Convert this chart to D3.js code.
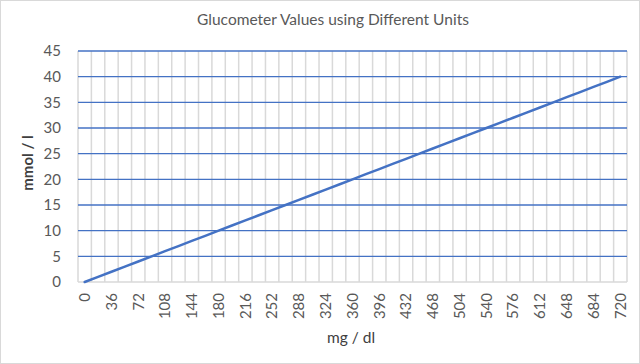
<!DOCTYPE html>
<html><head><meta charset="utf-8">
<script src="https://cdn.jsdelivr.net/npm/d3@7"></script>
<style>body{margin:0;background:#fff}svg{display:block}</style>
</head><body>
<svg id="c" width="640" height="364"></svg>
<script>
const categories = [0,18,36,54,72,90,108,126,144,162,180,198,216,234,252,270,288,306,324,342,360,378,396,414,432,450,468,486,504,522,540,558,576,594,612,630,648,666,684,702,720];
const mmolValues = [0,1,2,3,4,5,6,7,8,9,10,11,12,13,14,15,16,17,18,19,20,21,22,23,24,25,26,27,28,29,30,31,32,33,34,35,36,37,38,39,40];
const yTicks = [0,5,10,15,20,25,30,35,40,45];
const title = "Glucometer Values using Different Units";
const xTitle = "mg / dl";
const yTitle = "mmol / l";

const svg = d3.select("#c");
const font = "Lato, 'Open Sans', sans-serif";
const L = 78, R = 627, T = 51, B = 282;

svg.append("rect").attr("x",0.5).attr("y",0.5).attr("width",639).attr("height",363)
  .attr("fill","#fff").attr("stroke","#d9d9d9");

const x = d3.scaleBand().domain(categories).range([L,R]);
const y = d3.scaleLinear().domain([0,45]).range([B,T]);

// vertical gridlines at category boundaries
const g = svg.append("g");
const bounds = categories.map(c => x(c)).concat([R]);
g.selectAll("line.v").data(bounds).enter().append("line")
  .attr("x1",d=>d).attr("x2",d=>d).attr("y1",T).attr("y2",B)
  .attr("stroke","#d9d9d9").attr("stroke-width",1.5);
// horizontal gridlines
g.selectAll("line.h").data(yTicks.filter(t=>t>0)).enter().append("line")
  .attr("x1",L).attr("x2",R).attr("y1",d=>y(d)).attr("y2",d=>y(d))
  .attr("stroke","#4472C4").attr("stroke-width",1.3);
// x axis baseline
svg.append("line").attr("x1",L).attr("x2",R).attr("y1",B).attr("y2",B)
  .attr("stroke","#d9d9d9").attr("stroke-width",1.5);

// y tick labels
const ya = svg.append("g").attr("transform",`translate(${L-17},0)`)
  .call(d3.axisLeft(y).tickValues(yTicks).tickSize(0).tickPadding(0));
ya.select(".domain").remove();
ya.selectAll("text").attr("font-family",font).attr("font-size",15).attr("fill","#595959");

// x tick labels (every other category)
const xa = svg.append("g").attr("transform",`translate(0,${B})`)
  .call(d3.axisBottom(x).tickValues(categories.filter((c,i)=>i%2===0)).tickSize(0).tickPadding(0));
xa.select(".domain").remove();
xa.selectAll("text").attr("font-family",font).attr("font-size",15).attr("fill","#595959")
  .attr("transform","rotate(-90)").attr("text-anchor","end").attr("dy","0.35em")
  .attr("x",-11).attr("y",0);

// line
const line = d3.line().x((d,i)=>x(categories[i])+x.bandwidth()/2).y(d=>y(d));
svg.append("path").datum(mmolValues).attr("d",line).attr("fill","none")
  .attr("stroke","#4472C4").attr("stroke-width",2.5).attr("stroke-linecap","round");

// titles
svg.append("text").attr("x",333).attr("y",25).attr("text-anchor","middle")
  .attr("font-family",font).attr("font-size",15.5).attr("fill","#595959").text(title);
svg.append("text").attr("x",351).attr("y",343).attr("text-anchor","middle")
  .attr("font-family",font).attr("font-size",15.5).attr("fill","#404040").text(xTitle);
svg.append("text").attr("transform","translate(33,163) rotate(-90)").attr("text-anchor","middle")
  .attr("font-family",font).attr("font-size",15).attr("font-weight","bold").attr("fill","#404040").text(yTitle);
</script>
</body></html>
